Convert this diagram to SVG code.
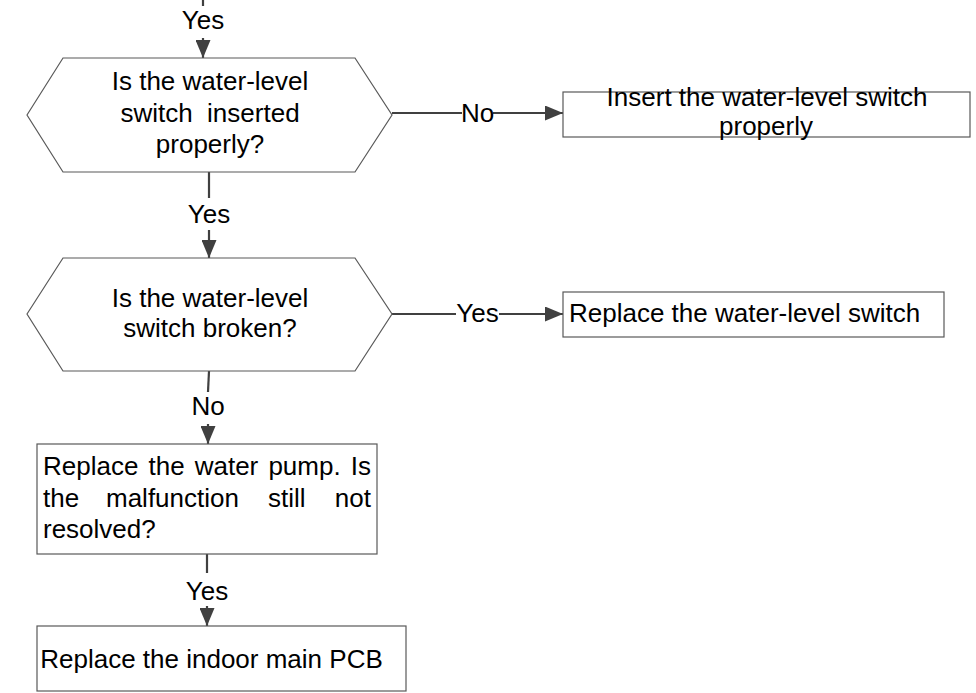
<svg xmlns="http://www.w3.org/2000/svg" width="976" height="693" viewBox="0 0 976 693">
<defs>
<marker id="arr" markerUnits="userSpaceOnUse" markerWidth="18" markerHeight="15" refX="18" refY="7.5" orient="auto">
<path d="M0,0 L18,7.5 L0,15 z" fill="#404040"/>
</marker>
<style>
text{font-family:"Liberation Sans",Arial,sans-serif;font-size:26px;fill:#000}
.c{text-anchor:middle}
.shape{fill:#fff;stroke:#595959;stroke-width:1.2}
.conn line{stroke:#404040;stroke-width:2.2;fill:none}
.conn .a{marker-end:url(#arr)}
</style>
</defs>
<rect width="976" height="693" fill="#fff"/>
<g id="connectors" class="conn">
<line x1="203" y1="0" x2="203" y2="6"/>
<line class="a" x1="203" y1="38" x2="203" y2="58"/>
<line x1="209" y1="172" x2="209" y2="198"/>
<line class="a" x1="209" y1="230" x2="209" y2="258"/>
<line x1="209" y1="371" x2="208" y2="392"/>
<line class="a" x1="208" y1="424" x2="208" y2="444"/>
<line x1="207" y1="554" x2="207" y2="573"/>
<line class="a" x1="207" y1="606" x2="207" y2="626"/>
<line x1="392" y1="113" x2="462" y2="113"/>
<line class="a" x1="493" y1="113" x2="563" y2="113"/>
<line x1="392" y1="314" x2="456" y2="314"/>
<line class="a" x1="499" y1="314" x2="563" y2="314"/>
<text class="c" x="203" y="29">Yes</text>
<text class="c" x="209" y="223">Yes</text>
<text class="c" x="208" y="415">No</text>
<text class="c" x="207" y="600">Yes</text>
<text class="c" x="477.5" y="122">No</text>
<text class="c" x="477.5" y="322">Yes</text>
</g>
<g id="q1">
<polygon class="shape" points="27,115 63,58 355,58 392,115 355,172 63,172"/>
<text class="c" x="210" y="90">Is the water-level</text>
<text class="c" x="210" y="122" xml:space="preserve">switch  inserted</text>
<text class="c" x="210" y="153">properly?</text>
</g>
<g id="a1">
<rect class="shape" x="563" y="92" width="407" height="45"/>
<text class="c" x="767" y="106">Insert the water-level switch</text>
<text class="c" x="766" y="135">properly</text>
</g>
<g id="q2">
<polygon class="shape" points="27,314 63,258 355,258 392,314 355,371 63,371"/>
<text class="c" x="210" y="307">Is the water-level</text>
<text class="c" x="210" y="337">switch broken?</text>
</g>
<g id="a2">
<rect class="shape" x="563" y="292" width="381" height="45"/>
<text x="569" y="322">Replace the water-level switch</text>
</g>
<g id="q3">
<rect class="shape" x="37" y="444" width="340" height="110"/>
<text x="43" y="475">Replace</text>
<text x="148.5" y="475">the</text>
<text x="194.7" y="475">water</text>
<text x="268.4" y="475">pump.</text>
<text x="371" y="475" text-anchor="end">Is</text>
<text x="43" y="507">the</text>
<text x="106" y="507">malfunction</text>
<text x="268" y="507">still</text>
<text x="371" y="507" text-anchor="end">not</text>
<text x="43" y="538">resolved?</text>
</g>
<g id="a3">
<rect class="shape" x="37" y="626" width="369" height="65"/>
<text class="c" x="211.5" y="668">Replace the indoor main PCB</text>
</g>
</svg>
